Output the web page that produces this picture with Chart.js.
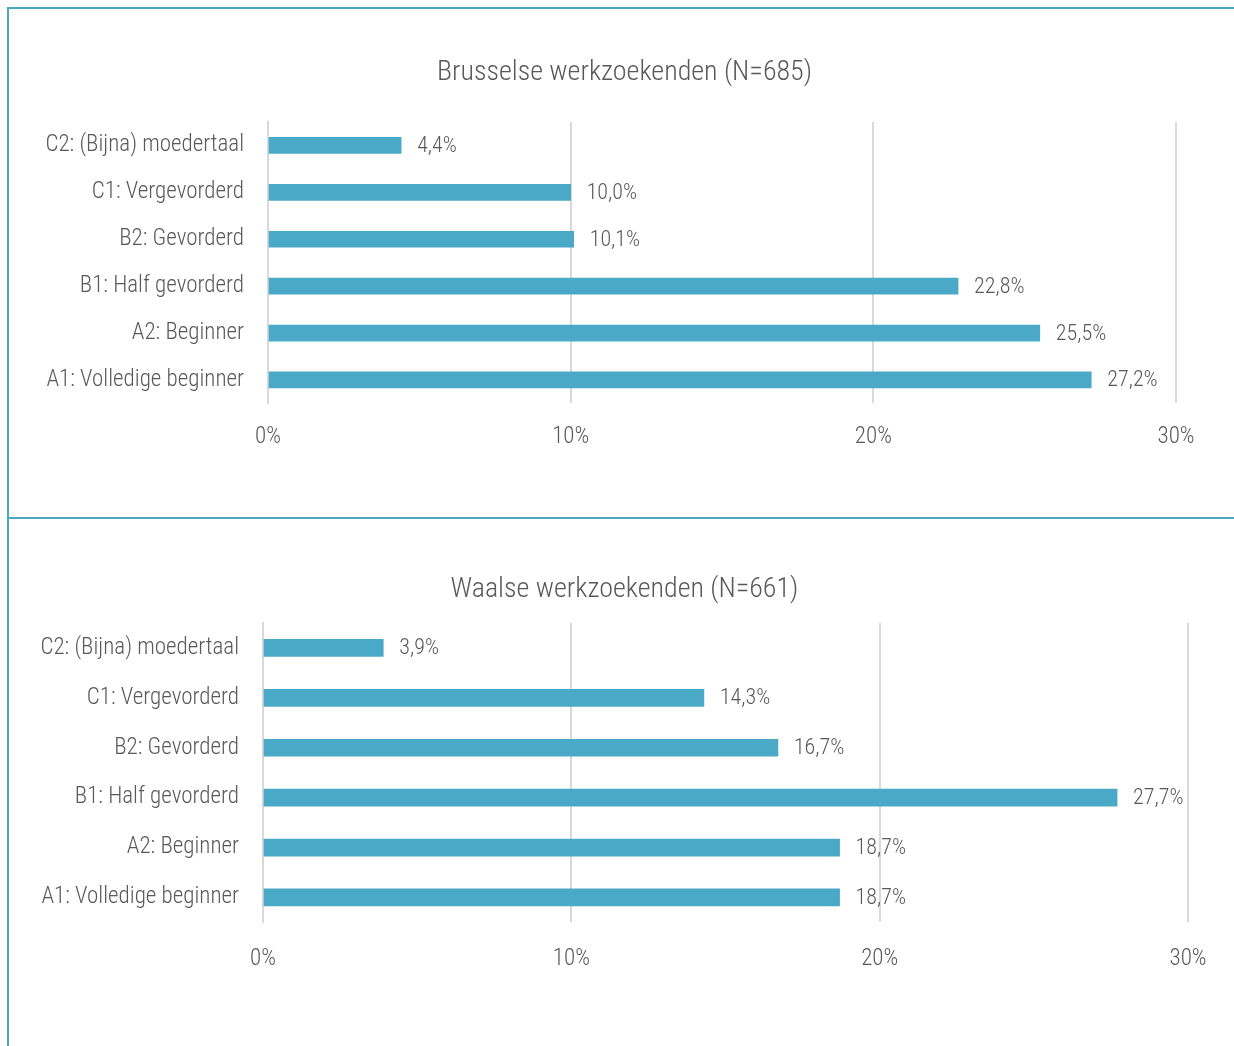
<!DOCTYPE html>
<html>
<head>
<meta charset="utf-8">
<script src="https://cdn.jsdelivr.net/npm/chart.js@4.4.0/dist/chart.umd.min.js"></script>
<style>
    html, body { margin: 0; padding: 0; background: #fff; width: 1234px; height: 1046px; overflow: hidden; }
    .box { position: absolute; left: 9px; width: 1225px; }
    .line { position: absolute; background: #4ba8c5; }
</style>
</head>
<body>
<div class="line" style="left:7px; top:7px; width:1227px; height:2px;"></div>
<div class="line" style="left:7px; top:7px; width:2px; height:1039px;"></div>
<div class="line" style="left:7px; top:517px; width:1227px; height:2px;"></div>
<div class="box" style="top:9px; height:508px;"><canvas id="chart-bru"></canvas></div>
<div class="box" style="top:520px; height:526px;"><canvas id="chart-wal"></canvas></div>
<script>
// --- Dados ---
const categories = [
    'C2: (Bijna) moedertaal',
    'C1: Vergevorderd',
    'B2: Gevorderd',
    'B1: Half gevorderd',
    'A2: Beginner',
    'A1: Volledige beginner'
];
const brusselsValues = [4.4, 10.0, 10.1, 22.8, 25.5, 27.2];
const wallonValues = [3.9, 14.3, 16.7, 27.7, 18.7, 18.7];
const xTicks = [0, 10, 20, 30];
const brusselsTitle = 'Brusselse werkzoekenden (N=685)';
const wallonTitle = 'Waalse werkzoekenden (N=661)';

const FONT = "'Roboto Condensed', 'Liberation Sans Narrow', 'Roboto', sans-serif";
const TEXT = '#595959';
const BAR = '#4ba9c8';
const GRID = '#d9d9d9';

// rótulos de valor ao lado das barras
const valueLabels = {
    id: 'valueLabels',
    afterDatasetsDraw(chart) {
        const ctx = chart.ctx;
        const meta = chart.getDatasetMeta(0);
        const data = chart.data.datasets[0].data;
        ctx.save();
        ctx.font = `300 22px ${FONT}`;
        ctx.fillStyle = TEXT;
        ctx.textAlign = 'left';
        ctx.textBaseline = 'middle';
        meta.data.forEach((bar, i) => {
            ctx.fillText(data[i].toFixed(1).replace('.', ',') + '%', bar.x + 16, bar.y + 1);
        });
        ctx.restore();
    }
};

// título centrado na largura toda do canvas (o título nativo usa o padding do layout)
const centeredTitle = {
    id: 'centeredTitle',
    afterDraw(chart, args, opts) {
        const ctx = chart.ctx;
        ctx.save();
        ctx.font = `300 28px ${FONT}`;
        ctx.fillStyle = TEXT;
        ctx.textAlign = 'center';
        ctx.textBaseline = 'middle';
        ctx.fillText(opts.text, chart.width / 2 + 3, opts.y);
        ctx.restore();
    }
};

function makeChart(canvasId, values, title, cfg) {
    return new Chart(document.getElementById(canvasId), {
        type: 'bar',
        data: {
            labels: categories,
            datasets: [{
                data: values,
                backgroundColor: BAR,
                barThickness: cfg.barThickness
            }]
        },
        options: {
            indexAxis: 'y',
            responsive: true,
            maintainAspectRatio: false,
            animation: false,
            layout: {
                padding: { left: 0, right: cfg.padRight, top: cfg.padTop, bottom: cfg.padBottom }
            },
            plugins: {
                legend: { display: false },
                tooltip: { enabled: false },
                title: { display: false },
                centeredTitle: { text: title, y: cfg.titleY }
            },
            scales: {
                x: {
                    min: 0,
                    max: 30,
                    afterBuildTicks: (scale) => {
                        scale.ticks = xTicks.map(v => ({ value: v }));
                    },
                    ticks: {
                        color: TEXT,
                        padding: cfg.tickPad,
                        font: { family: FONT, size: 23, weight: 300 },
                        callback: (v) => v + '%'
                    },
                    grid: { color: GRID, lineWidth: 2, drawTicks: false },
                    border: { display: false }
                },
                y: {
                    afterFit: (scale) => { scale.width = cfg.axisWidth; },
                    ticks: {
                        color: TEXT,
                        padding: 24,
                        font: { family: FONT, size: 23, weight: 300 }
                    },
                    grid: { display: false, drawTicks: false },
                    border: { display: true, color: GRID, width: 2 }
                }
            }
        },
        plugins: [valueLabels, centeredTitle]
    });
}

makeChart('chart-bru', brusselsValues, brusselsTitle, {
    barThickness: 16, padRight: 58, padTop: 113, padBottom: 46, titleY: 64,
    tickPad: 20, axisWidth: 259
});
makeChart('chart-wal', wallonValues, wallonTitle, {
    barThickness: 17, padRight: 46, padTop: 103, padBottom: 50, titleY: 70,
    tickPad: 23, axisWidth: 254
});
</script>
</body>
</html>
